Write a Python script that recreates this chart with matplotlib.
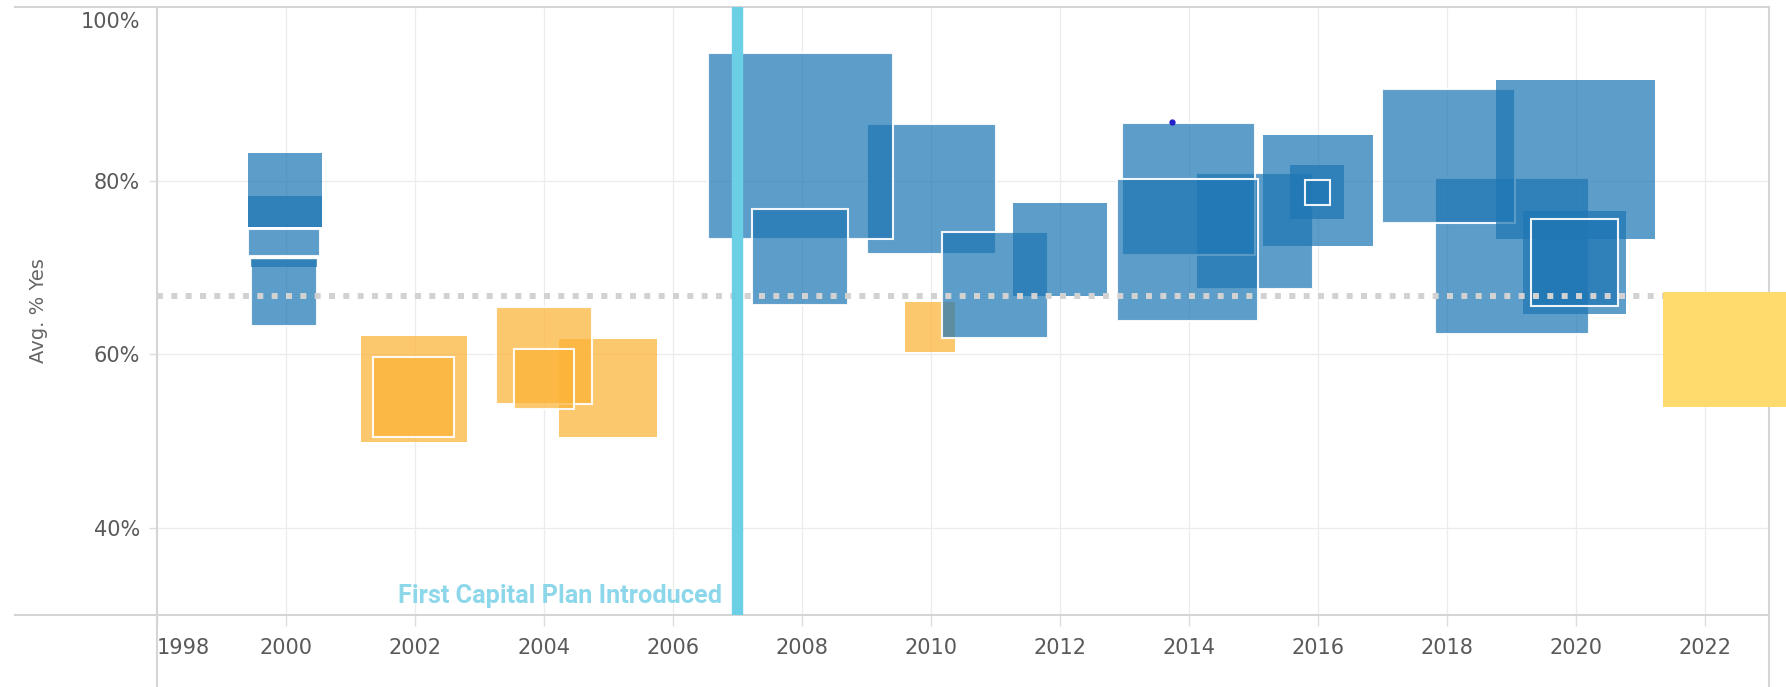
import matplotlib
matplotlib.use('agg')
import matplotlib.pyplot as plt
from matplotlib.patches import Rectangle

# one row per mark: year span, % yes span, outcome, white outline
year_lo = [1999.42, 1999.42, 1999.42, 1999.46, 1999.46,
           2001.17, 2001.35, 2004.23, 2003.26, 2003.54,
           2009.01, 2006.54, 2007.23, 2009.60, 2010.17, 2011.28,
           2014.11, 2012.97, 2012.88, 2015.15, 2015.57, 2015.80,
           2017.81, 2016.99, 2018.77, 2019.18, 2019.31]
year_hi = [2000.57, 2000.57, 2000.53, 2000.49, 2000.49,
           2002.81, 2002.61, 2005.75, 2004.75, 2004.47,
           2011.01, 2009.41, 2008.72, 2010.38, 2011.81, 2012.73,
           2015.92, 2015.02, 2015.08, 2016.86, 2016.41, 2016.19,
           2020.21, 2019.06, 2021.23, 2020.78, 2020.66]
pct_lo = [74.60, 74.60, 71.34, 63.30, 70.00,
          49.90, 50.47, 50.47, 54.30, 53.73,
          71.53, 73.26, 65.67, 60.24, 61.85, 66.75,
          67.51, 71.42, 63.87, 72.49, 75.55, 77.16,
          62.34, 75.09, 73.26, 64.64, 65.52]
pct_hi = [83.21, 78.23, 74.41, 70.96, 70.96,
          62.08, 59.74, 61.77, 65.41, 60.62,
          86.47, 94.70, 76.70, 66.06, 74.10, 77.39,
          80.84, 86.58, 80.23, 85.20, 81.76, 80.07,
          80.34, 90.57, 91.56, 76.51, 75.55]
outcome = ['pass'] * 5 + ['fail'] * 5 + ['pass'] * 3 + ['fail'] + ['pass'] * 13
outlined = [False, False, True, True, False,
            False, True, False, True, True,
            True, True, True, False, True, False,
            True, True, True, False, False, True,
            True, True, False, False, True]

# pending measure (yellow), drawn past the frame
pending_year = (2021.35, 2023.26)
pending_pct = (53.9, 67.2)

avg_line = 66.75
plan_year = 2007
dot = (2013.74, 86.74)

year_ticks = list(range(1998, 2023, 2))
pct_ticks = [40, 60, 80]

colors = {'pass': (0.122, 0.467, 0.706, 0.72), 'fail': (0.988, 0.702, 0.212, 0.72)}
frame = '#d5d5d5'
label_col = '#595959'

fig = plt.figure(figsize=(17.86, 6.87), dpi=100)
ax = fig.add_axes([0.08774, 0.10480, 0.90291, 0.88544])
ax.set_xlim(1998, 2023)
ax.set_ylim(30, 100)

ax.set_xticks(year_ticks)
ax.set_xticklabels([str(y) for y in year_ticks])
ax.set_yticks(pct_ticks)
ax.set_yticklabels(['%d%%' % p for p in pct_ticks])
ax.tick_params(axis='x', length=7.9, width=1, color='#dddddd', pad=8.5,
               labelsize=15, labelcolor=label_col)
ax.tick_params(axis='y', length=5.8, width=1, color='#dddddd', pad=6.3,
               labelsize=15, labelcolor=label_col)
ax.xaxis.get_major_ticks()[0].label1.set_horizontalalignment('left')
ax.annotate('100%', xy=(0, 100), xycoords=('axes fraction', 'data'),
            xytext=(-12.2, -10.8), textcoords='offset points',
            ha='right', va='center', fontsize=15, color=label_col,
            annotation_clip=False)

ax.set_axisbelow(True)
ax.grid(True, color='#ececec', lw=0.9)
for s in ax.spines.values():
    s.set_visible(False)

# frame lines, some run past the plot area
kw = dict(transform=ax.transAxes, clip_on=False, color=frame, lw=1.5, zorder=1)
ax.plot([-0.0879, 1], [1, 1], **kw)
ax.plot([-0.0879, 1], [0, 0], **kw)
ax.plot([0, 0], [-0.1184, 1], **kw)
ax.plot([1, 1], [-0.1184, 1], **kw)

for i in range(len(year_lo)):
    r = Rectangle((year_lo[i], pct_lo[i]), year_hi[i] - year_lo[i], pct_hi[i] - pct_lo[i],
                  facecolor=colors[outcome[i]],
                  edgecolor=(1, 1, 1, 0.92) if outlined[i] else 'none',
                  lw=1.5 if outlined[i] else 0, zorder=2)
    ax.add_patch(r)

ax.axhline(avg_line, color='#d2d2d2', lw=4.3, ls=(0, (1, 1.4)), zorder=3)
ax.axvline(plan_year, color='#6bcfe6', lw=8.2, zorder=4)
ax.plot([dot[0]], [dot[1]], 'o', ms=3.5, color='#2020cc', zorder=4)

ax.text(2006.77, 31.33, 'First Capital Plan Introduced', ha='right', va='baseline',
        color='#8dd7ea', fontsize=18.2, fontweight='bold', family=['Roboto', 'DejaVu Sans'],
        zorder=4)

ax.add_patch(Rectangle((pending_year[0], pending_pct[0]), pending_year[1] - pending_year[0],
                       pending_pct[1] - pending_pct[0], facecolor='#ffdb6e',
                       edgecolor='none', zorder=6, clip_on=False))

fig.text(38 / 1786, 1 - 311 / 687, 'Avg. % Yes', rotation=90, ha='center', va='center',
         fontsize=14, color='#666666')

fig.savefig('out.png', dpi=100)
